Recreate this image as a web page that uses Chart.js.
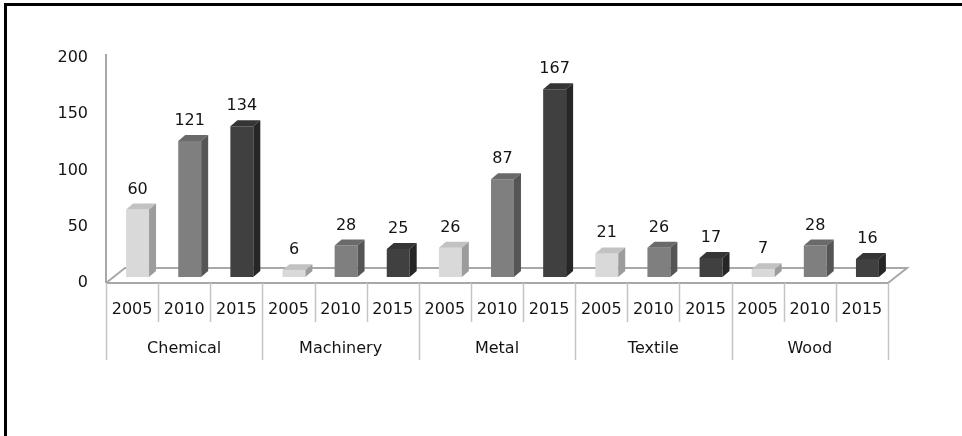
<!DOCTYPE html>
<html>
<head>
<meta charset="utf-8">
<script src="https://cdn.jsdelivr.net/npm/chart.js@4.4.0/dist/chart.umd.min.js"></script>
<style>
  html, body { margin: 0; padding: 0; background: #fff; }
  #wrap { width: 962px; height: 436px; }
</style>
</head>
<body>
<div id="wrap"><canvas id="myChart" width="962" height="436"></canvas></div>
<script>
// DATA
const categories = ['Chemical', 'Machinery', 'Metal', 'Textile', 'Wood'];
const years = ['2005', '2010', '2015'];
const values2005 = [60, 6, 26, 21, 7];
const values2010 = [121, 28, 87, 26, 28];
const values2015 = [134, 25, 167, 17, 16];
const yTicks = [0, 50, 100, 150, 200];

// colours per year: front, top, side
const frontColors = ['#d9d9d9', '#7f7f7f', '#404040'];
const topColors = ['#c2c2c2', '#6a6a6a', '#353535'];
const sideColors = ['#9c9c9c', '#555555', '#262626'];

// one slot per year inside each category
let xLabels = [];
let barValues = [];
let barColors = [];
categories.forEach(function(c, i){
    [values2005, values2010, values2015].forEach(function(arr, j){
        xLabels.push(years[j]);
        barValues.push(arr[i]);
        barColors.push(frontColors[j]);
    });
});

const FONT = 'DejaVu Sans';
const DX = 5.5, DY = 6;       // shift of the bar row into the floor
const SX = 7, SY = 6;         // depth of the bar faces
const FX = 19, FY = 15;       // depth of the floor

// 3D floor, faces, labels, axis decorations
const threeD = {
    id: 'threeD',
    beforeDatasetsDraw(chart){
        const ctx = chart.ctx;
        const a = chart.chartArea;
        const y = chart.scales.y;
        const y0 = y.getPixelForValue(0);
        ctx.save();
        ctx.strokeStyle = '#a8a8a8';
        ctx.lineWidth = 2;
        ctx.beginPath();
        ctx.moveTo(a.left, y0);
        ctx.lineTo(a.right, y0);
        ctx.lineTo(a.right + FX, y0 - FY);
        ctx.lineTo(a.left + FX, y0 - FY);
        ctx.lineTo(a.left, y0);
        ctx.stroke();
        // value axis line
        ctx.beginPath();
        ctx.moveTo(a.left, y.getPixelForValue(200) - 4);
        ctx.lineTo(a.left, y0);
        ctx.stroke();
        ctx.restore();
        ctx.save();
        ctx.translate(DX, -DY);
    },
    afterDatasetsDraw(chart){
        const ctx = chart.ctx;
        const meta = chart.getDatasetMeta(0);
        meta.data.forEach(function(bar, i){
            const p = bar.getProps(['x', 'y', 'base', 'width'], true);
            const l = p.x - p.width / 2, r = p.x + p.width / 2;
            const k = i % 3;
            // top face
            ctx.fillStyle = topColors[k];
            ctx.beginPath();
            ctx.moveTo(l, p.y);
            ctx.lineTo(l + SX, p.y - SY);
            ctx.lineTo(r + SX, p.y - SY);
            ctx.lineTo(r, p.y);
            ctx.closePath();
            ctx.fill();
            // side face
            ctx.fillStyle = sideColors[k];
            ctx.beginPath();
            ctx.moveTo(r, p.y);
            ctx.lineTo(r + SX, p.y - SY);
            ctx.lineTo(r + SX, p.base - SY);
            ctx.lineTo(r, p.base);
            ctx.closePath();
            ctx.fill();
            // value label
            ctx.fillStyle = '#141414';
            ctx.font = '16px "' + FONT + '"';
            ctx.textAlign = 'center';
            ctx.textBaseline = 'alphabetic';
            ctx.fillText(String(barValues[i]), p.x, p.y - 16);
        });
        ctx.restore();
    },
    afterDraw(chart){
        const ctx = chart.ctx;
        const a = chart.chartArea;
        const x = chart.scales.x;
        const y0 = chart.scales.y.getPixelForValue(0);
        const slot = (a.right - a.left) / xLabels.length;
        ctx.save();
        ctx.strokeStyle = '#c4c4c4';
        ctx.lineWidth = 1.5;
        for (let i = 0; i <= xLabels.length; i++){
            const px = Math.round(a.left + slot * i) + 0.5;
            ctx.beginPath();
            ctx.moveTo(px, y0);
            ctx.lineTo(px, i % 3 === 0 ? 360 : 322);
            ctx.stroke();
        }
        ctx.fillStyle = '#141414';
        ctx.font = '16px "' + FONT + '"';
        ctx.textAlign = 'center';
        ctx.textBaseline = 'alphabetic';
        categories.forEach(function(c, i){
            ctx.fillText(c, x.getPixelForValue(i * 3 + 1), 353);
        });
        // frame
        ctx.fillStyle = '#000';
        ctx.fillRect(4, 3, 958, 3);
        ctx.fillRect(4, 3, 3, 433);
        ctx.restore();
    }
};

let ctx = document.getElementById('myChart').getContext('2d');
let myChart = new Chart(ctx, {
    type: 'bar',
    data: {
        labels: xLabels,
        datasets: [{
            data: barValues,
            backgroundColor: barColors,
            borderWidth: 0,
            categoryPercentage: 1,
            barPercentage: 0.44
        }]
    },
    options: {
        responsive: false,
        animation: false,
        events: [],
        layout: { padding: { top: 58, right: 74, left: 0, bottom: 0 } },
        plugins: {
            legend: { display: false },
            tooltip: { enabled: false }
        },
        scales: {
            x: {
                grid: { display: false, drawTicks: false },
                border: { display: false },
                ticks: {
                    autoSkip: false,
                    maxRotation: 0,
                    padding: 17,
                    color: '#141414',
                    font: { family: FONT, size: 16 }
                },
                afterFit(s){ s.height = 153; }
            },
            y: {
                min: 0,
                max: 200,
                afterBuildTicks(s){ s.ticks = yTicks.map(function(v){ return { value: v }; }); },
                grid: { display: false, drawTicks: false },
                border: { display: false },
                ticks: {
                    padding: 18,
                    color: '#141414',
                    font: { family: FONT, size: 16 }
                },
                afterFit(s){ s.width = 106; }
            }
        }
    },
    plugins: [threeD]
});
</script>
</body>
</html>
